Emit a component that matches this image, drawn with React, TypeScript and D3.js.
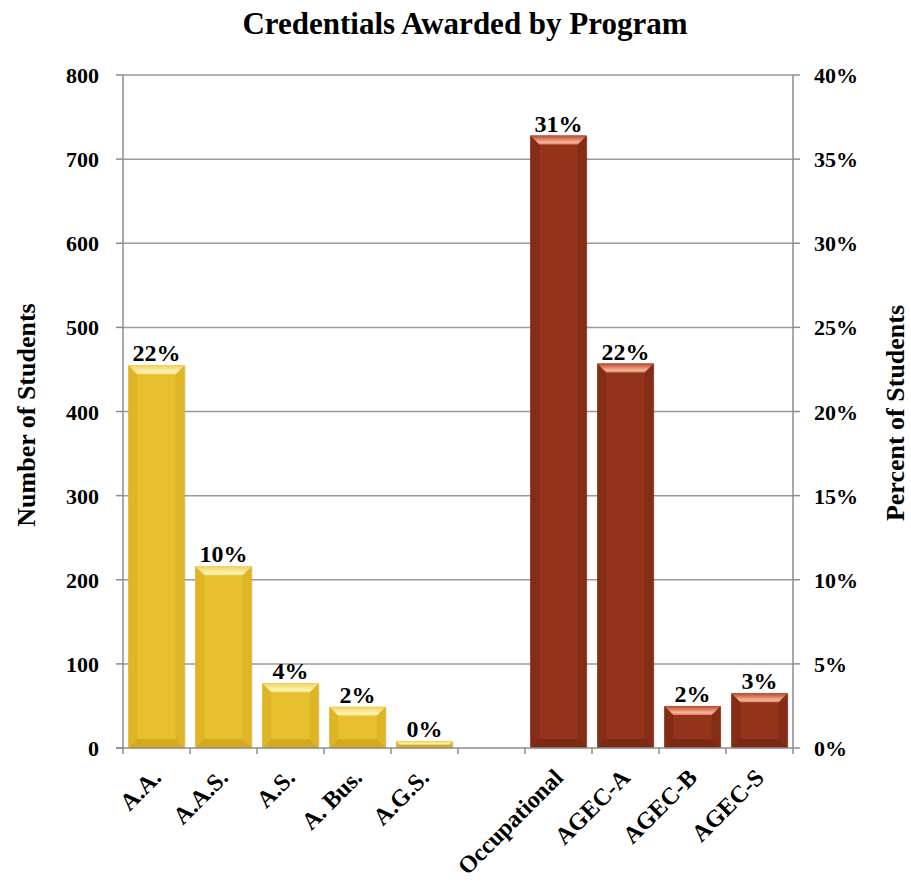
import React from "react";
import * as d3 from "d3";

const categories = ["A.A.", "A.A.S.", "A.S.", "A. Bus.", "A.G.S.", "", "Occupational", "AGEC-A", "AGEC-B", "AGEC-S"];
const counts: (number | null)[] = [455, 216, 77, 49, 8, null, 728, 457, 50, 65];
const percentLabels = ["22%", "10%", "4%", "2%", "0%", "", "31%", "22%", "2%", "3%"];
const groups = ["deg", "deg", "deg", "deg", "deg", "", "cert", "cert", "cert", "cert"];
const leftTicks = [0, 100, 200, 300, 400, 500, 600, 700, 800];
const rightTicks = [0, 5, 10, 15, 20, 25, 30, 35, 40];

const W = 911;
const H = 885;
const left = 123;
const right = 793;
const top = 75;
const bottom = 748;
const FONT = "'Liberation Serif', 'Times New Roman', serif";

const palettes: Record<string, { main: string; topA: string; topB: string; hi: string; side: string; bottom: string }> = {
  deg: { main: "#E7C030", topA: "#F0D258", topB: "#F6E27F", hi: "#FFF2B5", side: "#DDB526", bottom: "#D4AA22" },
  cert: { main: "#93331A", topA: "#B9482A", topB: "#E07F5E", hi: "#F7B59A", side: "#842D16", bottom: "#7B2914" },
};

export default function App() {
  const x = d3.scaleBand<string>().domain(categories.map((c, i) => String(i))).range([left, right]).paddingInner(0.16).paddingOuter(0.08);
  const y = d3.scaleLinear().domain([0, 800]).range([bottom, top]);
  const yr = d3.scaleLinear().domain([0, 40]).range([bottom, top]);
  const step = x.step();
  const boundaries = d3.range(categories.length + 1).map((i) => left + i * step);

  return (
    <svg width={W} height={H} style={{ position: "absolute", left: 0, top: 0, background: "#fff" }} fontFamily={FONT}>
      <defs>
        {Object.entries(palettes).map(([k, p]) => (
          <linearGradient key={k} id={`top-${k}`} x1="0" y1="0" x2="0" y2="1">
            <stop offset="0" stopColor={p.topA} />
            <stop offset="0.75" stopColor={p.hi} />
            <stop offset="1" stopColor={p.topB} />
          </linearGradient>
        ))}
      </defs>
      <text x={465} y={34} textAnchor="middle" fontSize={31} fontWeight="bold">
        Credentials Awarded by Program
      </text>
      {leftTicks.slice(1).map((t) => (
        <line key={t} x1={left} x2={right} y1={y(t)} y2={y(t)} stroke="#9a9a9a" strokeWidth={1.5} />
      ))}
      <line x1={left} x2={left} y1={top} y2={bottom} stroke="#8c8c8c" strokeWidth={1.5} />
      {leftTicks.map((t) => (
        <g key={t}>
          <line x1={left - 7} x2={left} y1={y(t)} y2={y(t)} stroke="#8c8c8c" strokeWidth={1.5} />
          <text x={99} y={y(t) + 8} textAnchor="end" fontSize={22} fontWeight="bold">
            {t}
          </text>
        </g>
      ))}
      <line x1={right} x2={right} y1={top} y2={bottom} stroke="#8c8c8c" strokeWidth={1.5} />
      {rightTicks.map((t) => (
        <g key={t}>
          <line x1={right} x2={right + 7} y1={yr(t)} y2={yr(t)} stroke="#8c8c8c" strokeWidth={1.5} />
          <text x={814} y={yr(t) + 8} textAnchor="start" fontSize={22} fontWeight="bold">
            {t}%
          </text>
        </g>
      ))}
      {counts.map((v, i) => {
        if (v == null) return null;
        const p = palettes[groups[i]];
        const x0 = x(String(i))!;
        const bw = x.bandwidth();
        const x1 = x0 + bw;
        const y0 = y(v);
        const y1 = y(0);
        const h = y1 - y0;
        const b = Math.min(9, h / 2);
        return (
          <g key={i}>
            <rect x={x0 + 1.5} y={y0 + 1.5} width={bw} height={h} fill="#000" opacity={0.07} />
            <rect x={x0} y={y0} width={bw} height={h} fill={p.main} />
            <polygon points={`${x0},${y0} ${x0 + b},${y0 + b} ${x0 + b},${y1 - b} ${x0},${y1}`} fill={p.side} />
            <polygon points={`${x1},${y0} ${x1 - b},${y0 + b} ${x1 - b},${y1 - b} ${x1},${y1}`} fill={p.side} />
            <polygon points={`${x0},${y1} ${x0 + b},${y1 - b} ${x1 - b},${y1 - b} ${x1},${y1}`} fill={p.bottom} />
            <polygon points={`${x0},${y0} ${x1},${y0} ${x1 - b},${y0 + b} ${x0 + b},${y0 + b}`} fill={`url(#top-${groups[i]})`} />
            <text x={x0 + bw / 2} y={y0 - 4} textAnchor="middle" fontSize={24} fontWeight="bold">
              {percentLabels[i]}
            </text>
          </g>
        );
      })}
      <line x1={left - 7} x2={right} y1={bottom} y2={bottom} stroke="#8c8c8c" strokeWidth={1.5} />
      {boundaries.map((bx, i) => (
        <line key={i} x1={bx} x2={bx} y1={bottom} y2={bottom + 6} stroke="#8c8c8c" strokeWidth={1.5} />
      ))}
      {categories.map((c, i) => {
        const cx = x(String(i))! + x.bandwidth() / 2 + 6;
        const cy = 779;
        return (
          <text key={i} x={cx} y={cy} textAnchor="end" fontSize={24} fontWeight="bold" transform={`rotate(-45 ${cx} ${cy})`}>
            {c}
          </text>
        );
      })}
      <text transform={`translate(35 ${415}) rotate(-90)`} textAnchor="middle" fontSize={26} fontWeight="bold">
        Number of Students
      </text>
      <text transform={`translate(904 ${413}) rotate(-90)`} textAnchor="middle" fontSize={26} fontWeight="bold">
        Percent of Students
      </text>
    </svg>
  );
}
